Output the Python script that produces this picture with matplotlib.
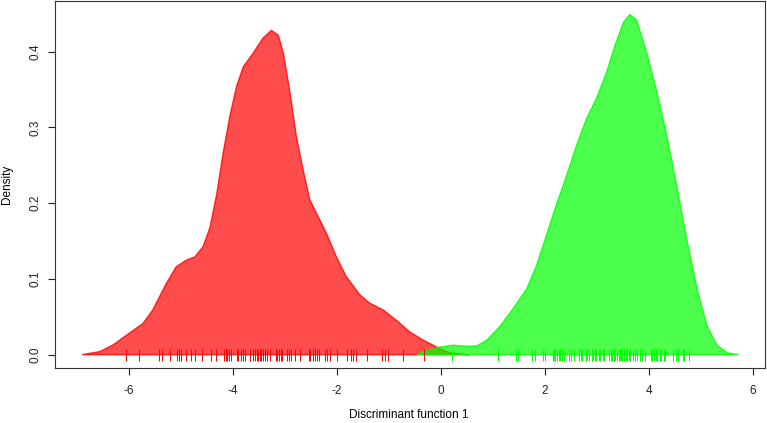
import matplotlib
matplotlib.use("Agg")
import matplotlib.pyplot as plt
import numpy as np

plt.rcParams['font.family'] = ['Liberation Sans', 'DejaVu Sans']

# Density curve of group 1 (red)
red_x = [-6.90, -6.56, -6.30, -6.04, -5.73, -5.54, -5.28, -5.09, -4.89, -4.73, -4.57, -4.44,
         -4.31, -4.19, -4.06, -3.93, -3.80, -3.61, -3.42, -3.26, -3.13, -3.03, -2.90, -2.78,
         -2.65, -2.52, -2.33, -2.20, -2.01, -1.82, -1.56, -1.37, -1.11, -0.85, -0.60, -0.34,
         -0.08, 0.17, 0.42, 0.56]
red_y = [0.000, 0.004, 0.013, 0.026, 0.041, 0.059, 0.094, 0.116, 0.125, 0.129, 0.143, 0.168,
         0.212, 0.265, 0.314, 0.354, 0.380, 0.398, 0.418, 0.428, 0.422, 0.398, 0.345, 0.288,
         0.244, 0.204, 0.178, 0.160, 0.129, 0.103, 0.079, 0.068, 0.059, 0.045, 0.030, 0.019,
         0.010, 0.0025, 0.0005, 0.000]

# Density curve of group 2 (green)
green_x = [-0.45, -0.34, -0.02, 0.24, 0.49, 0.69, 0.88, 1.13, 1.39, 1.65, 1.84, 2.03, 2.22,
           2.42, 2.61, 2.80, 2.99, 3.19, 3.35, 3.51, 3.63, 3.76, 3.95, 4.15, 4.34, 4.53,
           4.72, 4.92, 5.11, 5.30, 5.50, 5.72]
green_y = [0.000, 0.004, 0.010, 0.0125, 0.011, 0.0116, 0.019, 0.037, 0.061, 0.087, 0.118,
           0.158, 0.198, 0.237, 0.277, 0.312, 0.338, 0.374, 0.409, 0.439, 0.449, 0.442,
           0.400, 0.347, 0.290, 0.224, 0.154, 0.088, 0.039, 0.013, 0.0025, 0.000]

# Individual discriminant scores (rug)
red_rug = [-6.05, -5.80, -5.43, -5.37, -5.21, -5.08, -5.04, -4.99, -4.90, -4.81, -4.72, -4.60,
           -4.42, -4.33, -4.17, -4.14, -4.12, -4.08, -4.04, -3.93, -3.90, -3.85, -3.81, -3.76,
           -3.67, -3.62, -3.58, -3.54, -3.51, -3.48, -3.45, -3.42, -3.38, -3.34, -3.29, -3.17,
           -3.15, -3.12, -3.08, -3.06, -2.96, -2.92, -2.88, -2.80, -2.71, -2.54, -2.51, -2.46,
           -2.42, -2.38, -2.35, -2.23, -2.19, -2.13, -1.99, -1.81, -1.73, -1.69, -1.64, -1.43,
           -1.13, -1.08, -1.01, -0.72, -0.32]
green_rug = [0.21, 1.10, 1.44, 1.49, 1.76, 1.80, 1.97, 2.00, 2.15, 2.18, 2.20, 2.23, 2.26, 2.29,
             2.33, 2.36, 2.47, 2.50, 2.55, 2.66, 2.69, 2.71, 2.79, 2.81, 2.84, 2.90, 2.93, 2.97,
             2.99, 3.03, 3.06, 3.11, 3.14, 3.24, 3.26, 3.29, 3.33, 3.35, 3.38, 3.42, 3.44, 3.47,
             3.49, 3.52, 3.56, 3.58, 3.61, 3.63, 3.69, 3.73, 3.76, 3.83, 3.86, 3.93, 4.03, 4.06,
             4.10, 4.13, 4.16, 4.21, 4.24, 4.28, 4.31, 4.47, 4.51, 4.56, 4.65, 4.68, 4.77]

x_ticks = [-6, -4, -2, 0, 2, 4, 6]
y_ticks = [0.0, 0.1, 0.2, 0.3, 0.4]

W, H = 767, 423
fig = plt.figure(figsize=(W / 100, H / 100), dpi=100)
ax = fig.add_axes([55 / W, (H - 368) / H, (765 - 55) / W, (368 - 1) / H])

ax.fill(red_x, red_y, facecolor=(1, 0, 0, 0.7), edgecolor=(1, 0, 0, 0.8), linewidth=1.0, zorder=2)
ax.fill(green_x, green_y, facecolor=(0, 1, 0, 0.7), edgecolor=(0, 1, 0, 0.8), linewidth=1.0, zorder=3)

ax.plot(red_rug, np.zeros(len(red_rug)), linestyle='none', marker='|', markersize=8,
        markeredgewidth=0.7, color='#ff0000', zorder=4)
ax.plot(green_rug, np.zeros(len(green_rug)), linestyle='none', marker='|', markersize=8,
        markeredgewidth=0.7, color='#00ff00', zorder=4)

ax.set_xlim(-7.42, 6.23)
ax.set_ylim(-0.0176, 0.4669)
ax.set_xticks(x_ticks)
ax.set_xticklabels([str(t) for t in x_ticks])
ax.set_yticks(y_ticks)
ax.set_yticklabels([f"{t:.1f}" for t in y_ticks], rotation=90, va='center')

ax.tick_params(axis='both', direction='out', length=5, width=0.8, colors='#222222', labelsize=8.5)
ax.tick_params(axis='x', pad=7)
ax.tick_params(axis='y', pad=5)
for s in ax.spines.values():
    s.set_linewidth(0.8)
    s.set_color('#333333')

fig.text(409 / W, (H - 415) / H, "Discriminant function 1", fontsize=8.5,
         ha='center', va='center')
fig.text(7 / W, (H - 184) / H, "Density", fontsize=8.5, rotation=90,
         ha='center', va='center')

fig.savefig("out.png", dpi=100)
